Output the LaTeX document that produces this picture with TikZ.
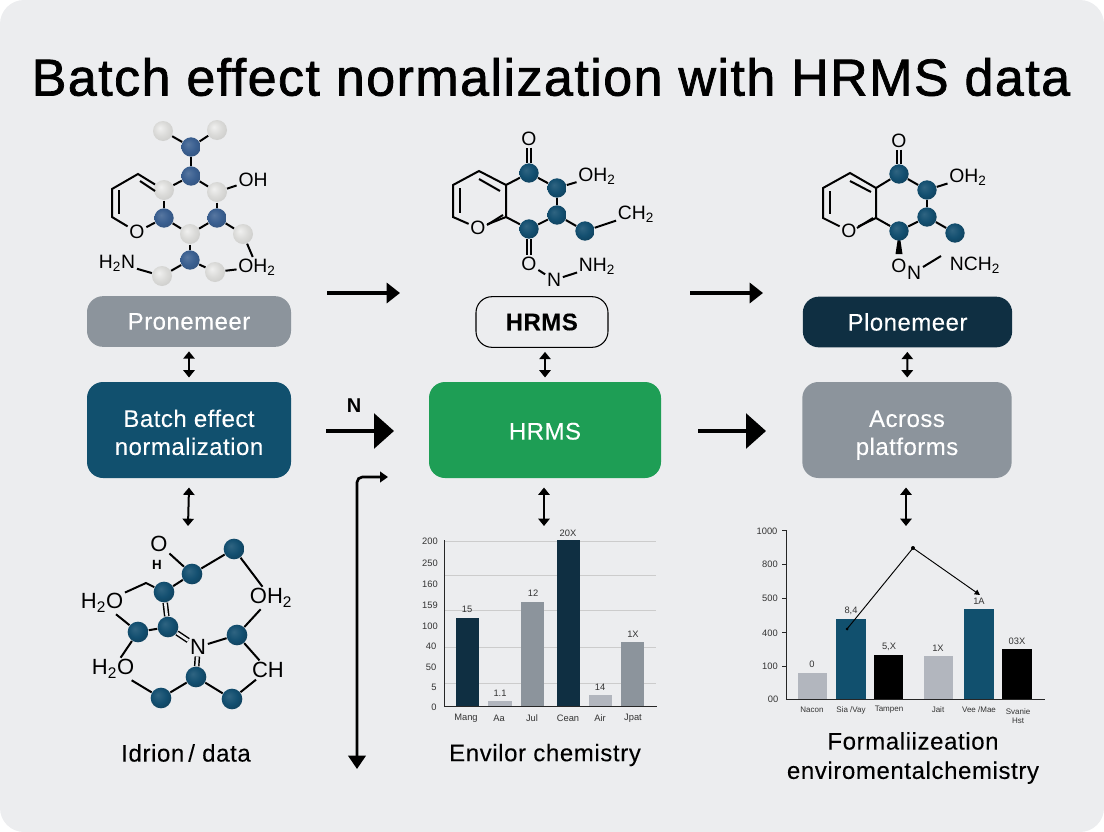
\documentclass[tikz,border=0pt]{standalone}
\usepackage{fontspec}
\setmainfont{Liberation Sans}
\usetikzlibrary{arrows.meta}
\definecolor{pagebg}{HTML}{ECEDEF}
\definecolor{inkdark}{HTML}{0F2F42}
\definecolor{tealblue}{HTML}{11506E}
\definecolor{midgray}{HTML}{8C949C}
\definecolor{lightbar}{HTML}{B2B6BE}
\definecolor{leafgreen}{HTML}{1E9E55}
\definecolor{slateball}{HTML}{3A5F90}
\definecolor{pearlball}{HTML}{DADAD8}
\definecolor{tealball}{HTML}{134F70}
\pgfdeclareradialshading{tealshade}{\pgfpoint{-8bp}{8bp}}{color(0bp)=(tealball!88!white); color(18bp)=(tealball); color(50bp)=(tealball!55!black)}
\pgfdeclareradialshading{slateshade}{\pgfpoint{-8bp}{8bp}}{color(0bp)=(slateball!85!white); color(18bp)=(slateball); color(50bp)=(slateball!70!black)}
\pgfdeclareradialshading{pearlshade}{\pgfpoint{-8bp}{8bp}}{color(0bp)=(pearlball!40!white); color(18bp)=(pearlball); color(50bp)=(pearlball!85!black)}
\newcommand{\dropline}[1]{\raisebox{-8.2pt}[0pt][0pt]{#1}}
\tikzset{
  atomtext/.style={inner sep=1pt,text=black,font=\fontsize{14.5}{16}\selectfont},
  bigatomtext/.style={inner sep=1pt,text=black,font=\fontsize{16.5}{18}\selectfont},
  tealatom/.style={circle,inner sep=0pt,minimum size=14.5pt,shade,shading=tealshade},
  bigatom/.style={circle,inner sep=0pt,minimum size=15.5pt,shade,shading=tealshade},
  slateatom/.style={circle,inner sep=0pt,minimum size=14.5pt,shade,shading=slateshade},
  pearlatom/.style={circle,inner sep=0pt,minimum size=15pt,shade,shading=pearlshade},
  bond/.style={draw=black,line width=1.5pt},
  dbond/.style={draw=black,double=pagebg,double distance=2pt,line width=1.1pt},
  stage/.style={rounded corners=12pt,align=center,text=white,inner sep=0pt,
    font=\fontsize{18}{21}\selectfont\addfontfeatures{LetterSpace=2,FakeBold=0.15}},
  bigstage/.style={stage,minimum height=72pt},
  thinstage/.style={stage,minimum height=38pt},
  flow/.style={line width=3pt,black,-{Triangle[length=10pt,width=15pt]}},
  bigflow/.style={line width=3pt,black,-{Triangle[length=15pt,width=26pt]}},
  updown/.style={line width=1.5pt,black,{Triangle[length=5.5pt,width=8.5pt]}-{Triangle[length=5.5pt,width=8.5pt]}},
  axisline/.style={line width=.7pt,black!85},
  gridline/.style={line width=.4pt,black!20},
  chartnum/.style={inner sep=0pt,text=black!80,font=\fontsize{7}{8}\selectfont},
  chartname/.style={chartnum,font=\fontsize{6}{7}\selectfont},
  caption/.style={inner sep=0pt,align=center,text=black,
    font=\fontsize{18}{22}\selectfont\addfontfeatures{LetterSpace=2.5,FakeBold=0.1}}
}
\begin{document}
\begin{tikzpicture}[x=.75pt,y=-.75pt,line width=.8pt]
  \useasboundingbox (0,0) rectangle (1104,832);
  \fill[pagebg,rounded corners=18pt] (0,0) rectangle (1104,832);

  \node[inner sep=0pt,font=\fontsize{39}{44}\selectfont\addfontfeatures{LetterSpace=2.8,FakeBold=1.4}] (heading) at (551,77)
    {Batch effect normalization with HRMS data};

  \node[thinstage,minimum width=153pt,fill=midgray] (prone) at (189,321.5) {Pronemeer};
  \node[thinstage,minimum width=99pt,draw=black,line width=.8pt,text=black] (hrmstop) at (542,322) {\textbf{HRMS}};
  \node[thinstage,minimum width=157pt,fill=inkdark] (plone) at (907.5,322) {Plonemeer};
  \node[bigstage,minimum width=153pt,fill=tealblue] (batch) at (189,430) {\dropline{Batch effect}\\\dropline{normalization}};
  \node[bigstage,minimum width=174pt,fill=leafgreen] (hrmsmid) at (545,430) {\rule{0pt}{14.5pt}HRMS};
  \node[bigstage,minimum width=157pt,fill=midgray] (across) at (907,430) {\dropline{Across}\\\dropline{platforms}};

  \coordinate (flowa) at (327,293);
  \coordinate (flowb) at (400,293);
  \coordinate (flowc) at (690,293);
  \coordinate (flowd) at (763,293);
  \coordinate (flowe) at (326,431);
  \coordinate (flowf) at (394,431);
  \coordinate (flowg) at (698,431);
  \coordinate (flowh) at (766,431);
  \draw[flow] (flowa) -- (flowb);
  \draw[flow] (flowc) -- (flowd);
  \draw[bigflow] (flowe) -- (flowf);
  \draw[bigflow] (flowg) -- (flowh);
  \node[inner sep=0pt,font=\bfseries\fontsize{15}{16}\selectfont] (nmark) at (354,406) {N};

  \coordinate (loopend) at (388,477);
  \coordinate (loopfoot) at (357,769);
  \draw[line width=2pt,black,{Triangle[length=10pt,width=13pt]}-{Triangle[length=6pt,width=8pt]},rounded corners=4pt]
    (loopfoot) -- (357,477) -- (loopend);

  \draw[updown,shorten <=3,shorten >=3] (prone) -- (batch);
  \draw[updown,shorten <=3,shorten >=3] (hrmstop.south -| hrmsmid) -- (hrmsmid);
  \draw[updown,shorten <=3,shorten >=3] (plone) -- (across);
  \coordinate (chartl) at (188,526);
  \coordinate (chartm) at (544,526);
  \coordinate (chartr) at (906,526);
  \draw[updown] (batch.south) ++(0,9) -- (chartl);
  \draw[updown] (hrmsmid.south) ++(-1,9) -- (chartm);
  \draw[updown] (across.south) ++(-1,9) -- (chartr);

  % first molecule
  \node[pearlatom] (ah) at (163,131) {};
  \node[pearlatom] (ai) at (217,130) {};
  \node[slateatom] (aa) at (191,147) {};
  \node[slateatom] (ab) at (191,176) {};
  \node[pearlatom] (ac) at (164,190) {};
  \node[pearlatom] (ad) at (217,192) {};
  \node[slateatom] (ae) at (164,218) {};
  \node[slateatom] (af) at (217,218) {};
  \node[pearlatom] (ag) at (190,234) {};
  \node[pearlatom] (aj) at (243,234) {};
  \node[slateatom] (ak) at (190,260) {};
  \node[pearlatom] (al) at (162,276) {};
  \node[pearlatom] (am) at (215,272) {};
  \node[atomtext] (aoh) at (253,180) {OH};
  \node[atomtext] (aoo) at (137,232) {O};
  \node[atomtext] (anh) at (117,263) {H\textsubscript{2}N};
  \node[atomtext] (aot) at (257,267) {OH\textsubscript{2}};
  \coordinate (ara) at (138,174);
  \coordinate (arb) at (112,189);
  \coordinate (arc) at (112,217);
  \coordinate (ard) at (119,190);
  \coordinate (are) at (119,214);
  \coordinate (arf) at (140,181);
  \coordinate (arg) at (155,191);
  \draw[bond] (ah) -- (aa);
  \draw[bond] (ai) -- (aa);
  \draw[bond] (aa) -- (ab);
  \draw[bond] (ab) -- (ac);
  \draw[bond] (ab) -- (ad);
  \draw[bond] (ad) -- (aoh);
  \draw[bond] (ac) -- (ae);
  \draw[bond] (ad) -- (af);
  \draw[bond] (ae) -- (ag);
  \draw[bond] (af) -- (ag);
  \draw[bond] (af) -- (aj);
  \draw[bond] (ag) -- (ak);
  \draw[bond] (ak) -- (al);
  \draw[bond] (ak) -- (am);
  \draw[bond] (am) -- (aot);
  \draw[bond] (aj) -- (aot);
  \draw[bond] (al) -- (anh);
  \draw[bond] (ae) -- (aoo);
  \draw[bond] (aoo) -- (arc) -- (arb) -- (ara) -- (ac);
  \draw[bond] (ard) -- (are);
  \draw[bond] (arf) -- (arg);

  % second molecule
  \node[tealatom] (ba) at (529,173) {};
  \node[tealatom] (bb) at (557,188) {};
  \node[tealatom] (bc) at (557,215) {};
  \node[tealatom] (bd) at (529,229) {};
  \node[tealatom] (be) at (585,231) {};
  \node[atomtext] (bot) at (529,139) {O};
  \node[atomtext] (boh) at (597,176) {OH\textsubscript{2}};
  \node[atomtext] (bch) at (636,214) {CH\textsubscript{2}};
  \node[atomtext] (boo) at (478,228) {O};
  \node[atomtext] (bob) at (529,264) {O};
  \node[atomtext] (bnn) at (554,280) {N};
  \node[atomtext] (bnh) at (597,266) {NH\textsubscript{2}};
  \coordinate (bra) at (506,185);
  \coordinate (brb) at (506,217);
  \coordinate (brc) at (453,217);
  \coordinate (brd) at (453,185);
  \coordinate (bre) at (479,171);
  \coordinate (brf) at (460,188);
  \coordinate (brg) at (460,213);
  \coordinate (brh) at (479,179);
  \coordinate (bri) at (500,191);
  \coordinate (brj) at (487,225);
  \coordinate (brk) at (503,215);
  \draw[dbond] (bot) -- (ba);
  \draw[bond] (ba) -- (bb);
  \draw[bond] (bb) -- (bc);
  \draw[bond] (bc) -- (bd);
  \draw[bond] (bc) -- (be);
  \draw[bond] (bb) -- (boh);
  \draw[bond] (be) -- (bch);
  \draw[dbond] (bd) -- (bob);
  \draw[bond] (bob) -- (bnn);
  \draw[bond] (bnn) -- (bnh);
  \draw[bond] (ba) -- (bra) -- (bre) -- (brd) -- (brc) -- (boo) -- (brb) -- (bra);
  \draw[bond] (bd) -- (brb);
  \draw[bond] (brf) -- (brg);
  \draw[bond] (brh) -- (bri);
  \draw[bond] (brj) -- (brk);

  % third molecule
  \fill[black] (899,231) -- (895.5,254) -- (902.5,254) -- cycle;
  \node[tealatom] (ca) at (899,174) {};
  \node[tealatom] (cb) at (927,190) {};
  \node[tealatom] (cc) at (927,217) {};
  \node[tealatom] (cd) at (899,231) {};
  \node[tealatom] (ce) at (955,233) {};
  \node[atomtext] (cot) at (899,141) {O};
  \node[atomtext] (coh) at (968,177) {OH\textsubscript{2}};
  \node[atomtext] (coo) at (849,231) {O};
  \node[atomtext] (cob) at (899,266) {O};
  \node[atomtext] (cnn) at (914,273) {N};
  \node[atomtext] (cnc) at (975,265) {NCH\textsubscript{2}};
  \coordinate (cra) at (876,188);
  \coordinate (crb) at (876,218);
  \coordinate (crc) at (823,218);
  \coordinate (crd) at (823,188);
  \coordinate (cre) at (850,173);
  \coordinate (crf) at (830,191);
  \coordinate (crg) at (830,214);
  \coordinate (crh) at (850,181);
  \coordinate (cri) at (871,192);
  \coordinate (crj) at (857,228);
  \coordinate (crk) at (873,218);
  \coordinate (crl) at (923,267);
  \coordinate (crm) at (941,256);
  \draw[dbond] (cot) -- (ca);
  \draw[bond] (ca) -- (cb);
  \draw[bond] (cb) -- (cc);
  \draw[bond] (cc) -- (cd);
  \draw[bond] (cc) -- (ce);
  \draw[bond] (cb) -- (coh);
  \draw[bond] (ca) -- (cra) -- (cre) -- (crd) -- (crc) -- (coo) -- (crb) -- (cra);
  \draw[bond] (cd) -- (crb);
  \draw[bond] (crf) -- (crg);
  \draw[bond] (crh) -- (cri);
  \draw[bond] (crj) -- (crk);
  \draw[bond] (crl) -- (crm);

  % fourth molecule
  \node[bigatom] (da) at (192,574) {};
  \node[bigatom] (db) at (234,549) {};
  \node[bigatom] (dc) at (164,592) {};
  \node[bigatom] (dd) at (168,627) {};
  \node[bigatom] (de) at (138,632) {};
  \node[bigatom] (df) at (237,635) {};
  \node[bigatom] (dg) at (196,677) {};
  \node[bigatom] (dh) at (161,698) {};
  \node[bigatom] (di) at (232,699) {};
  \node[bigatomtext] (doo) at (159,544) {O};
  \node[inner sep=0pt,font=\bfseries\fontsize{10}{11}\selectfont] (dhh) at (157,565) {H};
  \node[bigatomtext] (dot) at (271,598) {OH\textsubscript{2}};
  \node[bigatomtext] (dha) at (102,603) {H\textsubscript{2}O};
  \node[bigatomtext] (dnn) at (198,647) {N};
  \node[bigatomtext] (dhb) at (113,669) {H\textsubscript{2}O};
  \node[bigatomtext] (dch) at (268,670) {CH};
  \coordinate (dra) at (146,583);
  \draw[bond] (doo) -- (da);
  \draw[bond] (da) -- (db);
  \draw[bond] (db) -- (dot);
  \draw[bond] (da) -- (dc);
  \draw[dbond] (dc) -- (dd);
  \draw[bond] (dha) -- (dra) -- (dc);
  \draw[bond] (dot) -- (df);
  \draw[bond] (de) -- (dd);
  \draw[bond] (dha) -- (de);
  \draw[bond] (de) -- (dhb);
  \draw[dbond] (dd) -- (dnn);
  \draw[bond] (dnn) -- (df);
  \draw[dbond] (dnn) -- (dg);
  \draw[bond] (dhb) -- (dh);
  \draw[bond] (dh) -- (dg);
  \draw[bond] (dg) -- (di);
  \draw[bond] (di) -- (dch);
  \draw[bond] (df) -- (dch);

  % middle chart
  \coordinate (mo) at (444,706);
  \coordinate (mt) at (444,540);
  \coordinate (mr) at (657,706);
  \draw[gridline] (444,541) -- (656,541);
  \draw[gridline] (444,575) -- (656,575);
  \draw[gridline] (444,610) -- (656,610);
  \draw[gridline] (444,647) -- (656,647);
  \draw[gridline] (444,683) -- (656,683);
  \fill[inkdark] (456,618) rectangle (479,706);
  \fill[lightbar] (488,701) rectangle (512,706);
  \fill[midgray] (521,602) rectangle (544,706);
  \fill[inkdark] (557,540) rectangle (580,706);
  \fill[lightbar] (589,695) rectangle (612,706);
  \fill[midgray] (621,642) rectangle (644,706);
  \draw[axisline] (mt) -- (mo) -- (mr);
  \node[chartnum] (mya) at (430,541) {200};
  \node[chartnum] (myb) at (430,563) {250};
  \node[chartnum] (myc) at (430,584) {160};
  \node[chartnum] (myd) at (430,605) {159};
  \node[chartnum] (mye) at (430,626) {100};
  \node[chartnum] (myf) at (431,646) {40};
  \node[chartnum] (myg) at (431,667) {50};
  \node[chartnum] (myh) at (434,687) {5};
  \node[chartnum] (myi) at (434,707) {0};
  \node[chartnum] (mna) at (467,609) {15};
  \node[chartnum] (mnb) at (500,693) {1.1};
  \node[chartnum] (mnc) at (533,593) {12};
  \node[chartnum] (mnd) at (568,533) {20X};
  \node[chartnum] (mne) at (600,687) {14};
  \node[chartnum] (mnf) at (633,634) {1X};
  \node[chartnum] (mxa) at (466,718) {Mang};
  \node[chartnum] (mxb) at (499,718) {Aa};
  \node[chartnum] (mxc) at (532,718) {Jul};
  \node[chartnum] (mxd) at (568,718) {Cean};
  \node[chartnum] (mxe) at (600,718) {Air};
  \node[chartnum] (mxf) at (633,718) {Jpat};

  % right chart
  \coordinate (ro) at (786,699);
  \coordinate (rt) at (786,530);
  \coordinate (rr) at (1045,699);
  \fill[lightbar] (798,673) rectangle (827,699);
  \fill[tealblue] (836,619) rectangle (866,699);
  \fill[black] (874,655) rectangle (903,699);
  \fill[lightbar] (924,656) rectangle (953,699);
  \fill[tealblue] (964,609) rectangle (994,699);
  \fill[black] (1002,649) rectangle (1032,699);
  \draw[axisline] (rt) -- (ro) -- (rr);
  \draw[axisline] (782,530) -- (786,530);
  \draw[axisline] (782,564) -- (786,564);
  \draw[axisline] (782,598) -- (786,598);
  \draw[axisline] (782,632) -- (786,632);
  \draw[axisline] (782,666) -- (786,666);
  \node[chartnum] (rya) at (767,531) {1000};
  \node[chartnum] (ryb) at (770,564) {800};
  \node[chartnum] (ryc) at (770,598) {500};
  \node[chartnum] (ryd) at (770,633) {400};
  \node[chartnum] (rye) at (770,666) {100};
  \node[chartnum] (ryf) at (773,699) {00};
  \node[chartnum] (rna) at (812,664) {0};
  \node[chartnum] (rnb) at (851,611) {8,4};
  \node[chartnum] (rnc) at (889,647) {5,X};
  \node[chartnum] (rnd) at (938,648) {1X};
  \node[chartnum] (rne) at (979,601) {1A};
  \node[chartnum] (rnf) at (1017,641) {03X};
  \node[chartname] (rxa) at (812,710) {Nacon};
  \node[chartname] (rxb) at (851,710) {Sia /Vay};
  \node[chartname] (rxc) at (889,710) {Tampen};
  \node[chartname] (rxd) at (938,710) {Jait};
  \node[chartname] (rxe) at (979,710) {Vee /Mae};
  \node[chartname,align=center] (rxf) at (1018,716) {Svanie\\Hst};
  \coordinate (rla) at (847,629);
  \coordinate (rlb) at (913,548);
  \coordinate (rlc) at (980,595);
  \fill (rla) circle (1.5);
  \fill (rlb) circle (2);
  \draw[line width=.7pt,black,-{Triangle[length=4pt,width=4pt]}] (rla) -- (rlb) -- (rlc);

  \node[caption] (capl) at (186,753) {Idrion\,/ data};
  \node[caption] (capm) at (545,755) {Envilor chemistry};
  \node[caption] (capr) at (913,758) {Formaliizeation\\enviromentalchemistry};
\end{tikzpicture}
\end{document}
